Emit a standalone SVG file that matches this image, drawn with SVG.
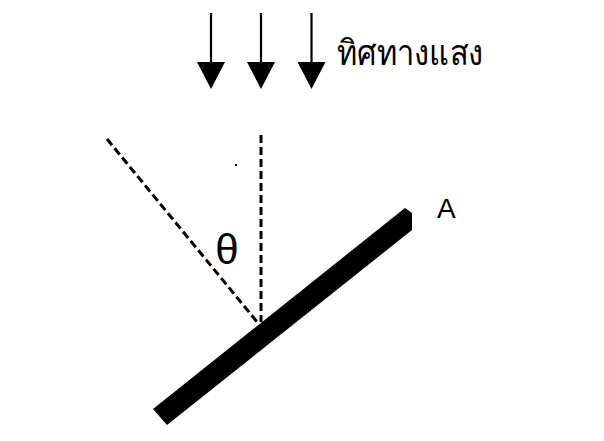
<svg xmlns="http://www.w3.org/2000/svg" width="604" height="441" viewBox="0 0 604 441">
<style>
.shaft{stroke:#000;stroke-width:2.2;fill:none}
.head{fill:#000}
.dash{stroke:#000;stroke-width:3;fill:none;stroke-dasharray:8 4}
.lbl{font-family:"Liberation Sans","Noto Sans",sans-serif;fill:#000}
</style>
<rect width="604" height="441" fill="#fff"/>
<g id="light-arrows">
<line class="shaft" x1="211" y1="13" x2="211" y2="64"/>
<polygon class="head" points="197,62 225,62 211,89"/>
<line class="shaft" x1="261" y1="13" x2="261" y2="64"/>
<polygon class="head" points="247,62 275,62 261,89"/>
<line class="shaft" x1="311.5" y1="13" x2="311.5" y2="64"/>
<polygon class="head" points="297.5,62 325.5,62 311.5,89"/>
</g>
<g id="light-label">
<text class="lbl" x="337" y="65" font-size="35" textLength="146" lengthAdjust="spacingAndGlyphs">ทิศทางแสง</text>
</g>
<g id="connectors">
<line class="dash" x1="261" y1="135" x2="261" y2="322"/>
<line class="dash" x1="107" y1="139" x2="258" y2="323"/>
</g>
<g id="dot">
<rect x="235" y="164" width="2" height="2" fill="#000"/>
</g>
<g id="theta">
<text class="lbl" x="227" y="264" font-size="42" text-anchor="middle">θ</text>
</g>
<g id="plate">
<polygon points="153,409 405,208 412,213 412,230 167,425" fill="#000"/>
</g>
<g id="label-A">
<text class="lbl" x="437" y="218" font-size="28">A</text>
</g>
</svg>
